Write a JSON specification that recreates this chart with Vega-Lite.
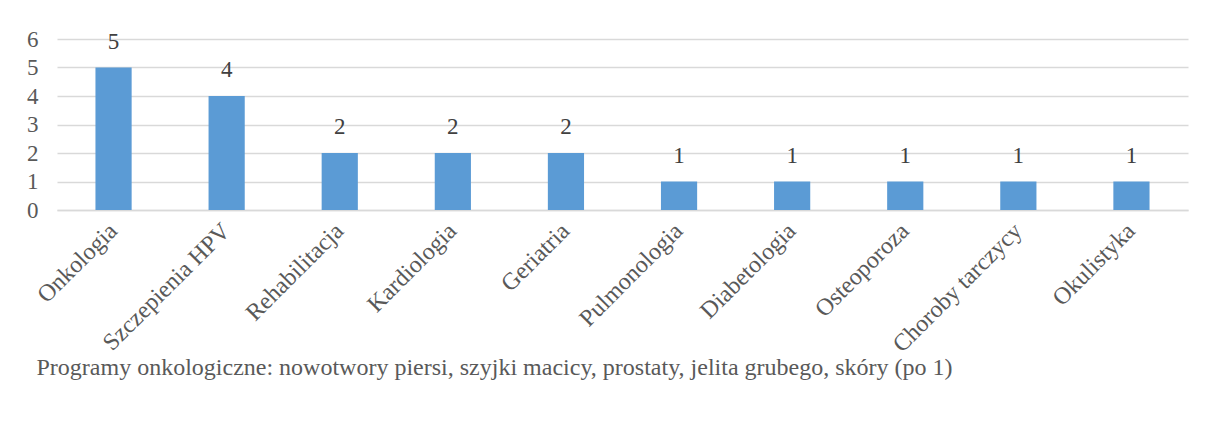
{
  "$schema": "https://vega.github.io/schema/vega-lite/v6.json",
  "autosize": {"type": "none"},
  "width": 1131,
  "height": 171,
  "padding": {"left": 57, "top": 39, "right": 25, "bottom": 218},
  "background": "white",
  "data": {"values": [
    {"program": "Onkologia", "count": 5},
    {"program": "Szczepienia HPV", "count": 4},
    {"program": "Rehabilitacja", "count": 2},
    {"program": "Kardiologia", "count": 2},
    {"program": "Geriatria", "count": 2},
    {"program": "Pulmonologia", "count": 1},
    {"program": "Diabetologia", "count": 1},
    {"program": "Osteoporoza", "count": 1},
    {"program": "Choroby tarczycy", "count": 1},
    {"program": "Okulistyka", "count": 1}
  ]},
  "title": {
    "text": "Programy onkologiczne: nowotwory piersi, szyjki macicy, prostaty, jelita grubego, skóry (po 1)",
    "orient": "bottom",
    "anchor": "start",
    "frame": "bounds",
    "offset": -1,
    "dx": 10,
    "font": "Liberation Serif",
    "fontSize": 24,
    "fontWeight": "normal",
    "color": "#595959"
  },
  "encoding": {
    "x": {
      "field": "program",
      "type": "nominal",
      "sort": null,
      "scale": {"paddingInner": 0.68, "paddingOuter": 0.34},
      "axis": {
        "title": null,
        "labelAngle": -45,
        "labelAlign": "right",
        "labelBaseline": "middle",
        "labelPadding": 17,
        "labelFont": "Liberation Serif",
        "labelFontSize": 24,
        "labelColor": "#595959",
        "ticks": false,
        "domainColor": "#d9d9d9",
        "domainWidth": 1.5
      }
    },
    "y": {
      "field": "count",
      "type": "quantitative",
      "scale": {"domain": [0, 6]},
      "axis": {
        "title": null,
        "values": [0, 1, 2, 3, 4, 5, 6],
        "labelFont": "Liberation Serif",
        "labelFontSize": 23,
        "labelColor": "#595959",
        "labelPadding": 19,
        "ticks": false,
        "domain": false,
        "gridColor": "#d9d9d9",
        "gridWidth": 1.5
      }
    }
  },
  "layer": [
    {"mark": {"type": "bar", "color": "#5b9bd5"}},
    {
      "mark": {"type": "text", "baseline": "bottom", "dy": -14, "font": "Liberation Serif", "fontSize": 23, "color": "#404040"},
      "encoding": {"text": {"field": "count", "type": "quantitative"}}
    }
  ],
  "config": {"view": {"stroke": null}}
}
